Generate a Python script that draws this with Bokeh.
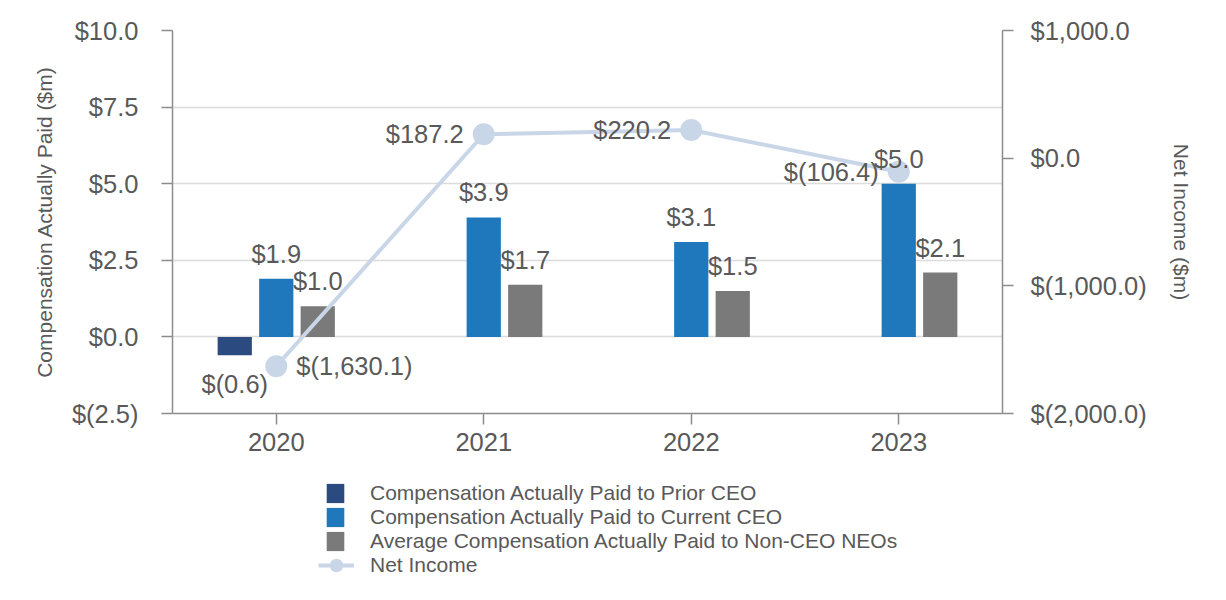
from bokeh.plotting import figure
from bokeh.layouts import column
from bokeh.models import (ColumnDataSource, FactorRange, Range1d, LinearAxis,
                          FixedTicker, Legend, LegendItem, CustomJSTickFormatter)
from bokeh.transform import dodge
from bokeh.core.properties import value
from bokeh.embed import file_html
from bokeh.resources import INLINE

# ---------------- data ----------------
years = ["2020", "2021", "2022", "2023"]
prior_years = ["2020"]
prior_ceo = [-0.6]
current_ceo = [1.9, 3.9, 3.1, 5.0]
non_ceo_neos = [1.0, 1.7, 1.5, 2.1]
net_income = [-1630.1, 187.2, 220.2, -106.4]

series_names = [
    "Compensation Actually Paid to Prior CEO",
    "Compensation Actually Paid to Current CEO",
    "Average Compensation Actually Paid to Non-CEO NEOs",
    "Net Income",
]

left_ticks = [-2.5, 0.0, 2.5, 5.0, 7.5, 10.0]
left_tick_labels = ["$(2.5)", "$0.0", "$2.5", "$5.0", "$7.5", "$10.0"]
right_ticks = [-2000.0, -1000.0, 0.0, 1000.0]
right_tick_labels = ["$(2,000.0)", "$(1,000.0)", "$0.0", "$1,000.0"]

# ---------------- style ----------------
FONT = "Liberation Sans"
TXT = "#595959"
AXC = "#8c8c8c"
C_PRIOR = "#2b4a80"
C_CUR = "#1f78bb"
C_NEO = "#7a7a7a"
C_NI = "#c9d6e8"


def fmt(v):
    return f"${v:,.1f}" if v >= 0 else f"$({-v:,.1f})"


src_prior = ColumnDataSource(dict(x=prior_years, top=prior_ceo, label=[fmt(v) for v in prior_ceo]))
src_cur = ColumnDataSource(dict(x=years, top=current_ceo, label=[fmt(v) for v in current_ceo]))
src_neo = ColumnDataSource(dict(x=years, top=non_ceo_neos, label=[fmt(v) for v in non_ceo_neos]))
src_ni = ColumnDataSource(dict(x=years, y=net_income, label=[fmt(v) for v in net_income]))
src_ni_right = ColumnDataSource(dict(x=years[:1], y=net_income[:1], label=[fmt(v) for v in net_income[:1]]))
src_ni_left = ColumnDataSource(dict(x=years[1:], y=net_income[1:], label=[fmt(v) for v in net_income[1:]]))

FIG_W = 1218
p = figure(width=FIG_W, height=470,
           x_range=FactorRange(factors=years),
           y_range=Range1d(-2.5, 10.0),
           output_backend="svg", toolbar_location=None,
           min_border_left=172, min_border_right=216,
           min_border_top=30, min_border_bottom=57)
p.extra_y_ranges = {"ni": Range1d(-2000.0, 1000.0)}
p.outline_line_color = None
p.background_fill_color = "white"
p.border_fill_color = "white"
p.xgrid.visible = False
p.ygrid.grid_line_color = "#dcdcdc"
p.ygrid.grid_line_width = 1.5

right_axis = LinearAxis(y_range_name="ni")
p.add_layout(right_axis, "right")

p.yaxis[0].ticker = FixedTicker(ticks=left_ticks)
p.yaxis[0].formatter = CustomJSTickFormatter(
    args=dict(t=left_ticks, l=left_tick_labels),
    code="const i = t.findIndex(v => Math.abs(v - tick) < 1e-9); return i >= 0 ? l[i] : '';")
right_axis.ticker = FixedTicker(ticks=right_ticks)
right_axis.formatter = CustomJSTickFormatter(
    args=dict(t=right_ticks, l=right_tick_labels),
    code="const i = t.findIndex(v => Math.abs(v - tick) < 1e-9); return i >= 0 ? l[i] : '';")

for ax in [p.yaxis[0], right_axis, p.xaxis[0]]:
    ax.axis_line_color = AXC
    ax.axis_line_width = 1.5
    ax.major_tick_line_color = AXC
    ax.major_tick_line_width = 1.5
    ax.major_tick_out = 11
    ax.major_tick_in = 0
    ax.minor_tick_line_color = None
    ax.major_label_text_font = FONT
    ax.major_label_text_font_size = "25.5px"
    ax.major_label_text_color = TXT
    ax.axis_label_text_font = FONT
    ax.axis_label_text_font_size = "21px"
    ax.axis_label_text_font_style = "normal"
    ax.axis_label_text_color = TXT

p.yaxis[0].axis_label = "Compensation Actually Paid ($m)"
p.yaxis[0].major_label_standoff = 23
p.yaxis[0].axis_label_standoff = 13
right_axis.axis_label = "Net Income ($m)"
right_axis.major_label_standoff = 17
right_axis.axis_label_standoff = 20
p.xaxis[0].major_label_standoff = 8

W = 0.165
r_prior = p.vbar(x=dodge("x", -0.2, range=p.x_range), top="top", bottom=0, width=W,
                 source=src_prior, fill_color=C_PRIOR, line_color=None)
r_cur = p.vbar(x=dodge("x", 0.0, range=p.x_range), top="top", bottom=0, width=W,
               source=src_cur, fill_color=C_CUR, line_color=None)
r_neo = p.vbar(x=dodge("x", 0.2, range=p.x_range), top="top", bottom=0, width=W,
               source=src_neo, fill_color=C_NEO, line_color=None)

r_line = p.line(x="x", y="y", source=src_ni, y_range_name="ni", line_color=C_NI, line_width=4)
r_pts = p.scatter(x="x", y="y", source=src_ni, y_range_name="ni", size=22,
                  fill_color=C_NI, line_color=None)

tkw = dict(text_font=value(FONT), text_font_size="25.5px", text_color=TXT)
p.text(x=dodge("x", -0.2, range=p.x_range), y="top", text="label", source=src_prior,
       text_align="center", text_baseline="alphabetic", y_offset=29, **tkw)
p.text(x=dodge("x", 0.0, range=p.x_range), y="top", text="label", source=src_cur,
       text_align="center", text_baseline="alphabetic", y_offset=-25, **tkw)
p.text(x=dodge("x", 0.2, range=p.x_range), y="top", text="label", source=src_neo,
       text_align="center", text_baseline="alphabetic", y_offset=-25, **tkw)
p.text(x="x", y="y", text="label", source=src_ni_right, y_range_name="ni",
       text_align="left", text_baseline="middle", x_offset=20, **tkw)
p.text(x="x", y="y", text="label", source=src_ni_left, y_range_name="ni",
       text_align="right", text_baseline="middle", x_offset=-20, **tkw)

# ---------------- legend strip below the chart ----------------
LEG_H = 122
q = figure(width=FIG_W, height=LEG_H, x_range=Range1d(0, 100), y_range=Range1d(0, 100),
           output_backend="svg", toolbar_location=None,
           x_axis_location=None, y_axis_location=None,
           min_border_left=0, min_border_right=0, min_border_top=0, min_border_bottom=0)
q.outline_line_color = None
q.grid.visible = False
q.background_fill_color = "white"
q.border_fill_color = "white"

# off-screen proxies that only give the legend its swatches
e = dict(x=[-1000], top=[-1000])
l_prior = q.vbar(x="x", top="top", width=1, source=ColumnDataSource(e), fill_color=C_PRIOR, line_color=None)
l_cur = q.vbar(x="x", top="top", width=1, source=ColumnDataSource(e), fill_color=C_CUR, line_color=None)
l_neo = q.vbar(x="x", top="top", width=1, source=ColumnDataSource(e), fill_color=C_NEO, line_color=None)
ee = dict(x=[-1000], y=[-1000])
l_line = q.line(x="x", y="y", source=ColumnDataSource(ee), line_color=C_NI, line_width=4)
l_pts = q.scatter(x="x", y="y", source=ColumnDataSource(ee), size=22, fill_color=C_NI, line_color=None)

lkw = dict(padding=0, margin=0, border_line_color=None, background_fill_alpha=0,
           label_text_font=FONT, label_text_font_size="21px", label_text_color=TXT)
leg_a = Legend(items=[LegendItem(label=series_names[0], renderers=[l_prior]),
                      LegendItem(label=series_names[1], renderers=[l_cur]),
                      LegendItem(label=series_names[2], renderers=[l_neo])],
               location=(152, 39), glyph_width=22, glyph_height=24, label_height=22,
               spacing=0, label_standoff=24, **lkw)
leg_b = Legend(items=[LegendItem(label=series_names[3], renderers=[l_line, l_pts])],
               location=(146, 10), glyph_width=36, glyph_height=34, label_height=34,
               label_standoff=16, **lkw)
q.add_layout(leg_a)
q.add_layout(leg_b)

layout = column(p, q, spacing=0)
open("out.html", "w").write(file_html(layout, INLINE))
